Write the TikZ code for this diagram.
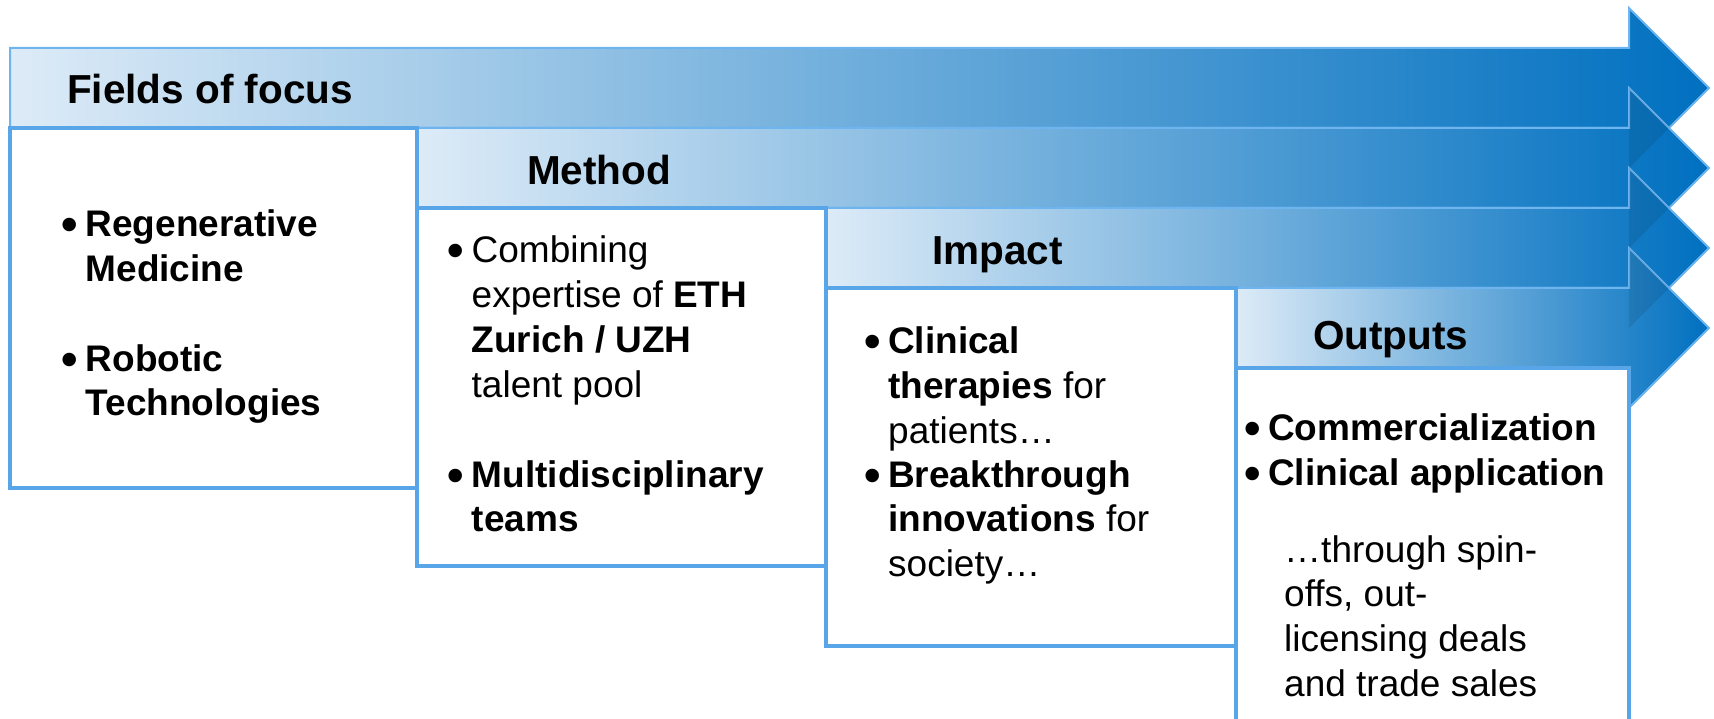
\documentclass[tikz,border=0pt]{standalone}
\usepackage{fontspec}
\setmainfont{Liberation Sans}
\definecolor{bord}{RGB}{88,166,232}
\definecolor{lite}{RGB}{221,235,247}
\definecolor{dark}{RGB}{0,112,192}
\definecolor{edge}{RGB}{110,180,238}
\tikzset{
  arrowband/.style={left color=lite,right color=dark,draw=edge,line width=2pt,line join=miter},
  overlap/.style={fill=black,fill opacity=0.09},
  panel/.style={fill=white,draw=bord,line width=4pt},
  ttl/.style={anchor=base west,inner sep=0pt,font=\fontsize{40.5}{48}\selectfont\bfseries},
  txt/.style={anchor=base west,inner sep=0pt,font=\fontsize{37}{44.7}\selectfont},
  txtb/.style={anchor=base west,inner sep=0pt,font=\fontsize{37}{44.7}\selectfont\bfseries},
  bul/.style={anchor=base west,inner sep=0pt,yshift=-4pt,text height=24pt,text depth=0pt,font=\fontsize{47}{47}\selectfont\bfseries},
}
\newcommand\myband[2]{\draw[arrowband] (#1,#2) -- (1629,#2) -- (1629,#2-40) -- (1709,#2+40) -- (1629,#2+120) -- (1629,#2+80) -- (#1,#2+80) -- cycle;}
\newcommand\mylines[1]{\begin{tabular}[t]{@{}l@{}}#1\end{tabular}}
\begin{document}
\begin{tikzpicture}[x=1pt,y=-1pt]
\useasboundingbox (0,0) rectangle (1714,719);
% arrows
\myband{10}{48}
\myband{417}{128}
\myband{826}{208}
\myband{1236}{288}
% overlaps of heads
\fill[overlap] (1629,88) -- (1669,128) -- (1629,168) -- cycle;
\fill[overlap] (1629,168) -- (1669,208) -- (1629,248) -- cycle;
\fill[overlap] (1629,248) -- (1669,288) -- (1629,328) -- cycle;
% panels
\draw[panel] (10,128) rectangle (417,488);
\draw[panel] (417,208) rectangle (826,566);
\draw[panel] (826,288) rectangle (1236,646);
\draw[panel] (1236,368) rectangle (1629,740);
% titles
\node[ttl] (t1) at (67,104) {Fields of focus};
\node[ttl] (t2) at (527,185) {Method};
\node[ttl] (t3) at (932,265) {Impact};
\node[ttl] (t4) at (1313,349) {Outputs};
% box 1
\node[bul] (b1a) at (61.5,237) {•};
\node[txtb] (f1) at (85.5,237) {\mylines{Regenerative\\Medicine}};
\node[bul] (b1b) at (61.5,371) {•};
\node[txtb] (f2) at (85.5,371) {\mylines{Robotic\\Technologies}};
% box 2
\node[bul] (b2a) at (447.5,263) {•};
\node[txt] (m1) at (471.5,263) {\mylines{Combining\\expertise of \textbf{ETH}\\\textbf{Zurich / UZH}\\talent pool}};
\node[bul] (b2b) at (447.5,487) {•};
\node[txtb] (m2) at (471.5,487) {\mylines{Multidisciplinary\\teams}};
% box 3
\node[bul] (b3a) at (864,354) {•};
\node[txt] (i1) at (888,354) {\mylines{\textbf{Clinical}\\\textbf{therapies} for\\patients…}};
\node[bul] (b3b) at (864,487) {•};
\node[txt] (i2) at (888,487) {\mylines{\textbf{Breakthrough}\\\textbf{innovations} for\\society…}};
% box 4
\node[bul] (b4a) at (1244,440) {•};
\node[txtb] (o1) at (1268,440) {Commercialization};
\node[bul] (b4b) at (1244,485) {•};
\node[txtb] (o2) at (1268,485) {Clinical application};
\node[txt] (o3) at (1284,562) {\mylines{…through spin-\\offs, out-\\licensing deals\\and trade sales}};
\end{tikzpicture}
\end{document}
